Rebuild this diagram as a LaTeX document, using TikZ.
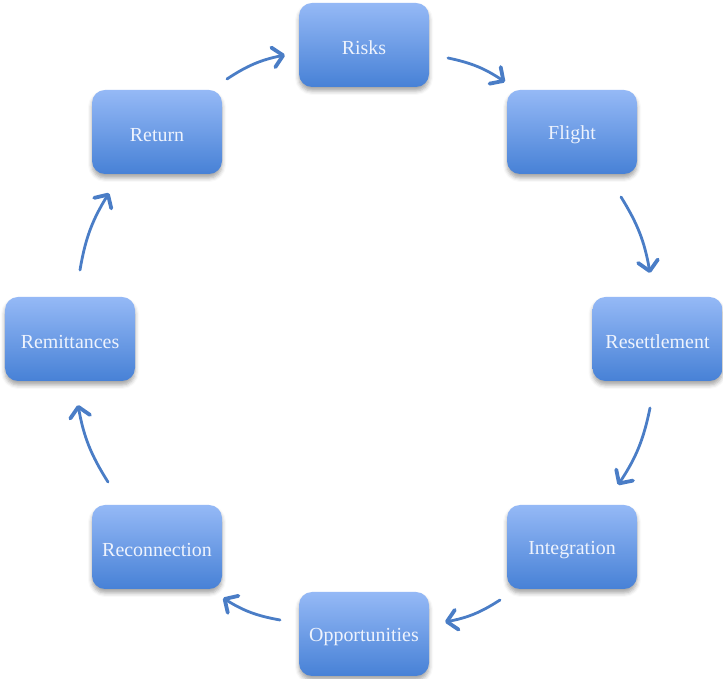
\documentclass[tikz,border=0pt]{standalone}
\usepackage{fontspec}
\setmainfont{Liberation Serif}
\usetikzlibrary{arrows.meta,shadows.blur}
\definecolor{boxtop}{HTML}{95B9F6}
\definecolor{boxbot}{HTML}{4781D6}
\definecolor{arrowc}{HTML}{4A7DC6}
\definecolor{txtc}{HTML}{EEF3FD}
\tikzset{
  stagebox/.style={rectangle, rounded corners=13bp, minimum width=130bp, minimum height=84bp,
    top color=boxtop, bottom color=boxbot, draw=none,
    blur shadow={shadow xshift=0bp, shadow yshift=-4bp, shadow blur radius=4bp, shadow opacity=35},
    text=txtc, font=\fontsize{20}{22}\selectfont},
  stagetext/.style={text=txtc, font=\fontsize{20}{22}\selectfont, anchor=center},
  cyclearrow/.style={draw=arrowc, line width=2.8bp, line cap=round,
    -{Straight Barb[length=10bp, width=20bp, line width=3.8bp, round]}, bend left=11}
}
\begin{document}
\begin{tikzpicture}[x=1bp,y=1bp]
\useasboundingbox (0,0) rectangle (723,679);
\node[stagebox] (risks) at (364,634) {};
\node[stagebox] (flight) at (572,547) {};
\node[stagebox] (reset) at (657.5,340) {};
\node[stagebox] (integ) at (572,132) {};
\node[stagebox] (opp) at (364,45) {};
\node[stagebox] (recon) at (157,132) {};
\node[stagebox] (remit) at (70,340) {};
\node[stagebox] (ret) at (157,547) {};
\node[stagetext] (risksT) at ([yshift=-3bp]risks.center) {Risks};
\node[stagetext] (flightT) at ([yshift=-3bp]flight.center) {Flight};
\node[stagetext] (resetT) at ([yshift=-3bp]reset.center) {Resettlement};
\node[stagetext] (integT) at ([yshift=-3bp]integ.center) {Integration};
\node[stagetext] (oppT) at ([yshift=-3bp]opp.center) {Opportunities};
\node[stagetext] (reconT) at ([yshift=-3bp]recon.center) {Reconnection};
\node[stagetext] (remitT) at ([yshift=-3bp]remit.center) {Remittances};
\node[stagetext] (retT) at ([yshift=-3bp]ret.center) {Return};
\coordinate (a1s) at (227,600); \coordinate (a1e) at (285,624);
\coordinate (a2s) at (448,621); \coordinate (a2e) at (505,597);
\coordinate (a3s) at (621,482); \coordinate (a3e) at (650,406);
\coordinate (a4s) at (650,271); \coordinate (a4e) at (618,194);
\coordinate (a5s) at (500,79);  \coordinate (a5e) at (445,57);
\coordinate (a6s) at (280,59);  \coordinate (a6e) at (223,81);
\coordinate (a7s) at (108,197); \coordinate (a7e) at (78,274);
\coordinate (a8s) at (80,409);  \coordinate (a8e) at (109,486);
\draw[cyclearrow] (a1s) to (a1e);
\draw[cyclearrow] (a2s) to (a2e);
\draw[cyclearrow] (a3s) to (a3e);
\draw[cyclearrow] (a4s) to (a4e);
\draw[cyclearrow] (a5s) to (a5e);
\draw[cyclearrow] (a6s) to (a6e);
\draw[cyclearrow] (a7s) to (a7e);
\draw[cyclearrow] (a8s) to (a8e);
\end{tikzpicture}
\end{document}
